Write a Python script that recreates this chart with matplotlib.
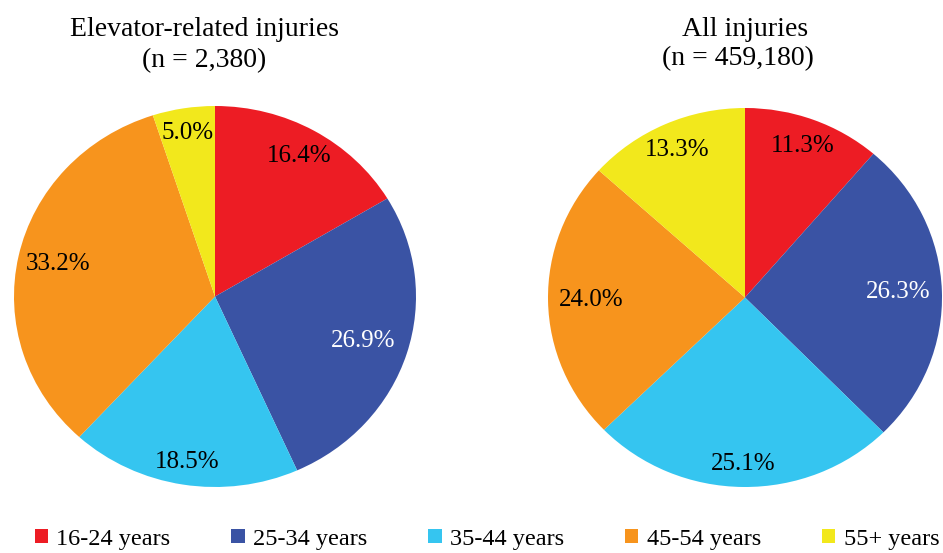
import matplotlib

matplotlib.use("Agg")
import matplotlib.pyplot as plt
import numpy as np
from matplotlib.patches import Patch

plt.rcParams["font.family"] = ["Liberation Serif", "DejaVu Serif"]

AGE_GROUPS = ["16-24 years", "25-34 years", "35-44 years", "45-54 years", "55+ years"]
ELEVATOR_PCT = [16.4, 26.9, 18.5, 33.2, 5.0]
ALL_PCT = [11.3, 26.3, 25.1, 24.0, 13.3]
TITLES = [("Elevator-related injuries", "(n = 2,380)"), ("All injuries", "(n = 459,180)")]

COLORS = ["#ED1C24", "#3A53A4", "#35C5F0", "#F7941D", "#F2E81C"]
TEXT_COLORS = ["black", "white", "black", "black", "black"]


def draw_pie(ax, values, dists):
    ax.pie(values, colors=COLORS, startangle=90, counterclock=False,
           wedgeprops=dict(linewidth=0))
    total = sum(values)
    start = 90.0
    for v, d, tc in zip(values, dists, TEXT_COLORS):
        mid = np.deg2rad(start - v / total * 180.0)
        ax.text(d * np.cos(mid), d * np.sin(mid), f"{v:.1f}%", ha="center", va="center",
                fontsize=18, color=tc)
        start -= v / total * 360.0
    ax.set_aspect("auto")
    ax.set_xlim(-1, 1)
    ax.set_ylim(-1, 1)


W, H = 943, 553
fig = plt.figure(figsize=(W / 100, H / 100), dpi=100)

ax1 = fig.add_axes([14 / W, 66 / H, 402 / W, 381 / H])
draw_pie(ax1, ELEVATOR_PCT, [0.85, 0.77, 0.88, 0.80, 0.87])

ax2 = fig.add_axes([548 / W, 66 / H, 394 / W, 379 / H])
draw_pie(ax2, ALL_PCT, [0.85, 0.78, 0.88, 0.78, 0.85])

fig.text(204 / W, 1 - 30 / H, TITLES[0][0], ha="center", va="center", fontsize=20)
fig.text(204 / W, 1 - 61 / H, TITLES[0][1], ha="center", va="center", fontsize=20)
fig.text(745 / W, 1 - 30 / H, TITLES[1][0], ha="center", va="center", fontsize=20)
fig.text(738 / W, 1 - 59 / H, TITLES[1][1], ha="center", va="center", fontsize=20)

handles = [Patch(facecolor=c, edgecolor="none") for c in COLORS]
fig.legend(handles, AGE_GROUPS, loc="center", bbox_to_anchor=(487 / W, 1 - 539 / H), ncol=5,
           frameon=False, fontsize=17.5, handlelength=0.55, handleheight=0.55,
           handletextpad=0.35, columnspacing=2.5)

fig.savefig("out.png", dpi=100)
